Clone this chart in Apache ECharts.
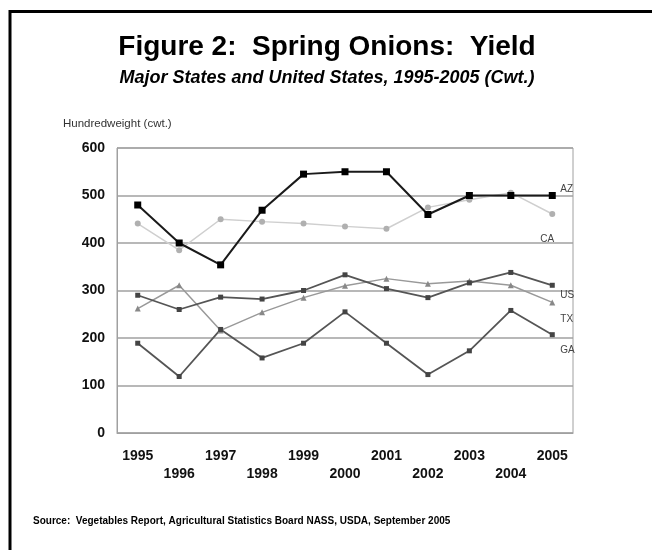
<!DOCTYPE html>
<html>
<head>
<meta charset="utf-8">
<script src="https://cdn.jsdelivr.net/npm/echarts@6/dist/echarts.min.js"></script>
<style>
html,body{margin:0;padding:0;background:#fff;}
#chart{width:652px;height:550px;}
</style>
</head>
<body>
<div id="chart"></div>
<script>
const years = ['1995','1996','1997','1998','1999','2000','2001','2002','2003','2004','2005'];
const azYield = [480, 400, 354, 469, 545, 550, 550, 460, 500, 500, 500];
const caYield = [441, 385, 450, 445, 441, 435, 430, 475, 491, 506, 461];
const usYield = [290, 260, 286, 282, 300, 333, 304, 285, 316, 338, 311];
const txYield = [262, 311, 216, 254, 285, 310, 325, 314, 320, 311, 275];
const gaYield = [189, 119, 218, 158, 189, 255, 189, 123, 173, 258, 207];
const yTicks = [0, 100, 200, 300, 400, 500, 600];

const titleText = 'Figure 2:  Spring Onions:  Yield';
const subtitleText = 'Major States and United States, 1995-2005 (Cwt.)';
const unitText = 'Hundredweight (cwt.)';
const sourceText = 'Source:  Vegetables Report, Agricultural Statistics Board NASS, USDA, September 2005';

const FONT = '"Liberation Sans", Arial, sans-serif';

function mkSeries(name, data, lineColor, symColor, symbol, symSize, width, labelOffset) {
  return {
    name: name,
    type: 'line',
    data: data,
    symbol: symbol,
    symbolSize: symSize,
    lineStyle: {color: lineColor, width: width},
    itemStyle: {color: symColor},
    z: name === 'AZ' ? 5 : 3,
    endLabel: {
      show: true,
      formatter: name,
      offset: labelOffset,
      color: '#444',
      fontSize: 10,
      fontFamily: FONT
    }
  };
}

const chart = echarts.init(document.getElementById('chart'));
chart.setOption({
  animation: false,
  backgroundColor: '#fff',
  grid: {left: 117, right: 79, top: 148, bottom: 117, show: true, borderColor: '#a0a0a0', borderWidth: 1},
  xAxis: {
    type: 'category',
    data: years,
    boundaryGap: true,
    axisLine: {show: true, lineStyle: {color: '#a0a0a0'}},
    axisTick: {show: false},
    axisLabel: {
      interval: 0,
      margin: 14,
      color: '#111',
      fontSize: 14,
      fontWeight: 'bold',
      fontFamily: FONT,
      lineHeight: 18,
      formatter: function (v, i) { return i % 2 ? '\n' + v : v; }
    }
  },
  yAxis: {
    type: 'value',
    min: yTicks[0],
    max: yTicks[yTicks.length - 1],
    interval: 100,
    axisLine: {show: true, lineStyle: {color: '#a0a0a0'}},
    axisTick: {show: false},
    splitLine: {lineStyle: {color: '#a0a0a0', width: 1.5}},
    axisLabel: {margin: 12, color: '#111', fontSize: 14, fontWeight: 'bold', fontFamily: FONT}
  },
  series: [
    mkSeries('CA', caYield, '#cfcfcf', '#b0b0b0', 'circle', 6, 1.5, [-20, 25]),
    mkSeries('TX', txYield, '#999', '#888', 'triangle', 6, 1.5, [0, 17]),
    mkSeries('US', usYield, '#555', '#444', 'rect', 5, 1.8, [0, 10]),
    mkSeries('GA', gaYield, '#555', '#444', 'rect', 5, 1.8, [0, 16]),
    mkSeries('AZ', azYield, '#1a1a1a', '#000', 'rect', 7, 2, [0, -6])
  ],
  graphic: [
    {type: 'rect', shape: {x: 10, y: 11.5, width: 700, height: 600}, style: {fill: 'none', stroke: '#000', lineWidth: 3}, silent: true},
    {type: 'text', x: 327, y: 47, style: {text: titleText, font: 'bold 28px ' + FONT, fill: '#000', textAlign: 'center', textVerticalAlign: 'middle'}},
    {type: 'text', x: 327, y: 78, style: {text: subtitleText, font: 'italic bold 18px ' + FONT, fill: '#000', textAlign: 'center', textVerticalAlign: 'middle'}},
    {type: 'text', x: 63, y: 124, style: {text: unitText, font: '11.5px ' + FONT, fill: '#333', textAlign: 'left', textVerticalAlign: 'middle'}},
    {type: 'text', x: 33, y: 521, style: {text: sourceText, font: 'bold 10px ' + FONT, fill: '#000', textAlign: 'left', textVerticalAlign: 'middle'}}
  ]
});
</script>
</body>
</html>
